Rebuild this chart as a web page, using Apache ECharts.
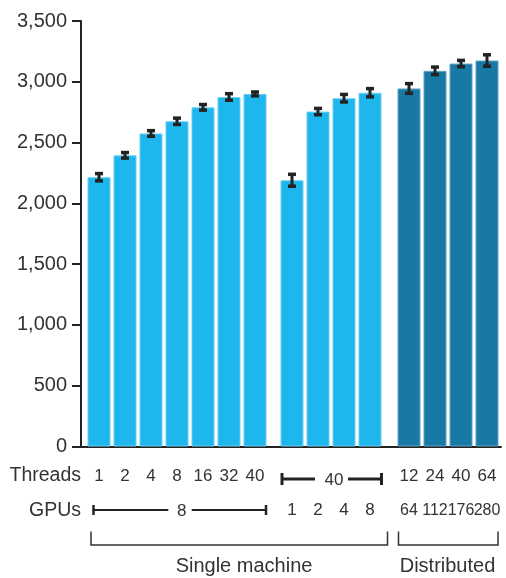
<!DOCTYPE html>
<html>
<head>
<meta charset="utf-8">
<script src="https://cdn.jsdelivr.net/npm/echarts@6/dist/echarts.min.js"></script>
<style>
html,body{margin:0;padding:0;background:#fff;}
#c{width:506px;height:578px;}
</style>
</head>
<body>
<div id="c"></div>
<script>
// ---- data ----
const threadsSingle = ['1', '2', '4', '8', '16', '32', '40'];
const gpusSingleShared = '8';
const valuesSingleThreads = [2215, 2395, 2575, 2675, 2790, 2875, 2900];
const errSingleThreads = [30, 23, 23, 26, 23, 27, 16];

const threadsGpuShared = '40';
const gpusSingle = ['1', '2', '4', '8'];
const valuesSingleGpus = [2190, 2755, 2865, 2910];
const errSingleGpus = [49, 26, 31, 34];

const threadsDist = ['12', '24', '40', '64'];
const gpusDist = ['64', '112', '176', '280'];
const valuesDist = [2945, 3090, 3150, 3175];
const errDist = [40, 31, 26, 47];

const yMin = 0, yMax = 3500, yStep = 500;

// ---- styles ----
const FONT = "'Liberation Sans', Arial, Helvetica, sans-serif";
const TXT = '#333';
const AX = '#222';
const LIGHT = '#1db6ed', LIGHT_EDGE = '#6fd0f3';
const DARK = '#1879a7', DARK_EDGE = '#5fa3c6';

const chart = echarts.init(document.getElementById('c'), null, {renderer: 'canvas'});

const gridTop = 21, gridH = 425.5;
function hiddenY(gi) {
  return {type: 'value', gridIndex: gi, min: yMin, max: yMax, interval: yStep, show: false};
}
function labelAxis(gi, data, offset, size) {
  return {
    type: 'category', gridIndex: gi, data: data, position: 'bottom', offset: offset,
    axisLine: {show: false}, axisTick: {show: false}, splitLine: {show: false},
    axisLabel: {interval: 0, margin: 30, verticalAlign: 'middle', color: TXT, fontSize: size, fontFamily: FONT}
  };
}
function errSeries(xi, yi, values, errs) {
  return {
    type: 'custom', xAxisIndex: xi, yAxisIndex: yi,
    data: values.map((v, i) => [i, v, errs[i]]),
    encode: {x: 0, y: 1},
    z: 5,
    silent: true,
    renderItem: function (params, api) {
      const i = api.value(0), v = api.value(1), e = api.value(2);
      const t = api.coord([i, v + e]);
      const b = api.coord([i, v - e]);
      const x = t[0];
      return {
        type: 'group',
        children: [
          {type: 'line', shape: {x1: x, y1: t[1], x2: x, y2: b[1]}, style: {stroke: AX, lineWidth: 3}},
          {type: 'rect', shape: {x: x - 4, y: t[1] - 1.75, width: 8, height: 3.5}, style: {fill: AX}},
          {type: 'rect', shape: {x: x - 4, y: b[1] - 1.75, width: 8, height: 3.5}, style: {fill: AX}}
        ]
      };
    }
  };
}
function barSeries(xi, yi, values, fill, edge) {
  return {
    type: 'bar', xAxisIndex: xi, yAxisIndex: yi, data: values, barWidth: 23,
    itemStyle: {color: fill, borderColor: edge, borderWidth: 1},
    silent: true
  };
}

const option = {
  animation: false,
  backgroundColor: '#fff',
  grid: [
    {left: 81, right: 5, top: gridTop, height: gridH},
    {left: 86, width: 182, top: gridTop, height: gridH},
    {left: 279, width: 104, top: gridTop, height: gridH},
    {left: 396, width: 104, top: gridTop, height: gridH}
  ],
  xAxis: [
    {type: 'category', gridIndex: 0, data: [''], axisLine: {show: true, lineStyle: {color: AX, width: 2}},
     axisTick: {show: false}, axisLabel: {show: false}},
    labelAxis(1, threadsSingle, 0, 17),
    labelAxis(2, gpusSingle, 34, 17),
    labelAxis(3, threadsDist, 0, 17),
    labelAxis(3, gpusDist, 34, 16)
  ],
  yAxis: [
    {type: 'value', gridIndex: 0, min: yMin, max: yMax, interval: yStep,
     axisLine: {show: true, lineStyle: {color: AX, width: 2}},
     axisTick: {show: true, length: 9, lineStyle: {color: AX, width: 2}},
     splitLine: {show: false},
     axisLabel: {margin: 14, color: TXT, fontSize: 20, fontFamily: FONT,
       formatter: v => v.toLocaleString('en-US')}},
    hiddenY(1), hiddenY(2), hiddenY(3)
  ],
  series: [
    barSeries(1, 1, valuesSingleThreads, LIGHT, LIGHT_EDGE),
    barSeries(2, 2, valuesSingleGpus, LIGHT, LIGHT_EDGE),
    barSeries(3, 3, valuesDist, DARK, DARK_EDGE),
    errSeries(1, 1, valuesSingleThreads, errSingleThreads),
    errSeries(2, 2, valuesSingleGpus, errSingleGpus),
    errSeries(3, 3, valuesDist, errDist)
  ]
};

chart.setOption(option);

// ---- annotations (brackets & row titles) ----
const txt = (text, x, y, align, size) => ({
  type: 'text', x: x, y: y, silent: true,
  style: {text: text, fill: TXT, fontSize: size, fontFamily: FONT, align: align, verticalAlign: 'middle'}
});
const ln = (x1, y1, x2, y2, w) => ({
  type: 'line', silent: true, shape: {x1, y1, x2, y2}, style: {stroke: AX, lineWidth: w}
});
const pl = (pts) => ({type: 'polyline', silent: true, shape: {points: pts}, style: {stroke: TXT, lineWidth: 1.5, fill: null}});

chart.setOption({
  graphic: [
    txt('Threads', 81, 476, 'right', 19.5),
    txt('GPUs', 81, 511, 'right', 19.5),
    // Threads bracket for GPU-scaling group
    ln(281, 479, 315, 479, 3), ln(348, 479, 382.5, 479, 3),
    ln(282, 473, 282, 485, 3), ln(381.5, 473, 381.5, 485, 3),
    txt(threadsGpuShared, 334, 480.5, 'center', 17),
    // GPUs bracket for thread-scaling group
    ln(92.7, 510, 168.3, 510, 2), ln(191.7, 510, 266.7, 510, 2),
    ln(93.5, 505, 93.5, 515, 2.5), ln(266, 505, 266, 515, 2.5),
    txt(gpusSingleShared, 181.7, 511.5, 'center', 17),
    // bottom brackets
    pl([[91, 531.5], [91, 545], [387.5, 545], [387.5, 531.5]]),
    pl([[398.5, 531.5], [398.5, 545], [498, 545], [498, 531.5]]),
    txt('Single machine', 244, 566.5, 'center', 20),
    txt('Distributed', 447.5, 566.5, 'center', 20)
  ]
});
</script>
</body>
</html>
